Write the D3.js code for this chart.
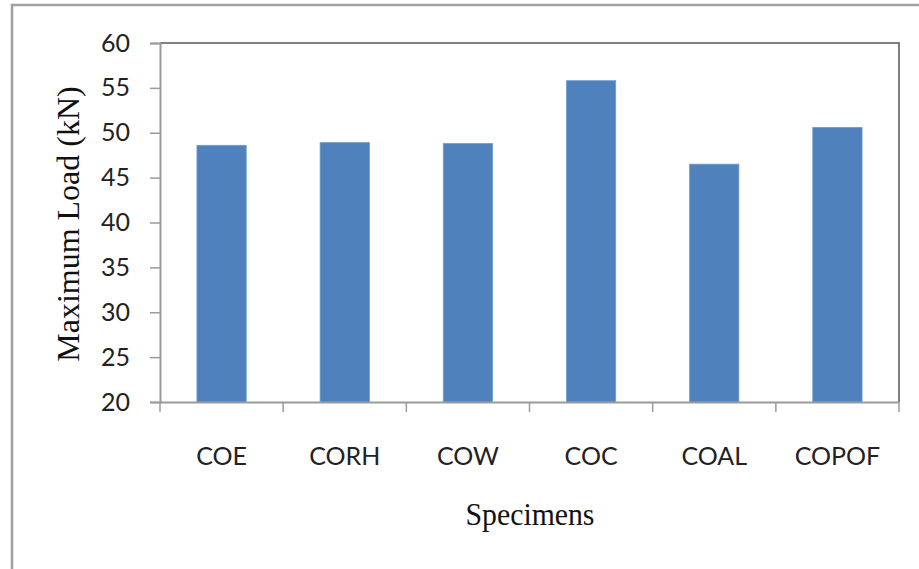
<!DOCTYPE html>
<html>
<head>
<meta charset="utf-8">
<script src="https://cdn.jsdelivr.net/npm/d3@7"></script>
<style>
  body { margin: 0; background: #fff; }
</style>
</head>
<body>
<div id="chart-area"></div>
<script>
// datos del grafico
var specimens = ["COE", "CORH", "COW", "COC", "COAL", "COPOF"];
var maxLoad = [48.6, 48.9, 48.8, 55.8, 46.5, 50.6];
var yTicks = [20, 25, 30, 35, 40, 45, 50, 55, 60];

var W = 919, H = 569;
var margin = { left: 160, right: 20, top: 43, bottom: 167 };
var width = 899 - margin.left;
var height = 402 - margin.top;

var svg = d3.select("#chart-area").append("svg")
    .attr("width", W)
    .attr("height", H);

// marco exterior (cortado a la derecha y abajo)
svg.append("path")
    .attr("d", "M12," + H + " L12,5 L" + W + ",5")
    .attr("fill", "none")
    .attr("stroke", "#a0a0a0")
    .attr("stroke-width", 2.5);

var g = svg.append("g")
    .attr("transform", "translate(" + margin.left + "," + margin.top + ")");

var x = d3.scaleBand()
    .domain(specimens)
    .range([0, width])
    .padding(0);

var y = d3.scaleLinear()
    .domain([20, 60])
    .range([height, 0]);

// borde superior y derecho del area de trazado
g.append("path")
    .attr("d", "M0,0 L" + width + ",0 L" + width + "," + height)
    .attr("fill", "none")
    .attr("stroke", "#555")
    .attr("stroke-width", 1.5);

// barras
var barW = x.bandwidth() * 0.4;
g.selectAll("rect.bar")
    .data(specimens)
    .enter().append("rect")
    .attr("class", "bar")
    .attr("x", (d, i) => x(d) + (x.bandwidth() - barW) / 2)
    .attr("y", (d, i) => y(maxLoad[i]))
    .attr("width", barW)
    .attr("height", (d, i) => height - y(maxLoad[i]))
    .attr("fill", "#4f81bd")
    .attr("stroke", "#6f9bd0")
    .attr("stroke-width", 0.8);

// eje y
var yAxis = g.append("g")
    .call(d3.axisLeft(y).tickValues(yTicks).tickSize(10).tickPadding(20));
yAxis.select(".domain").attr("stroke", "#9a9a9a").attr("stroke-width", 2);
yAxis.selectAll(".tick line").attr("stroke", "#9a9a9a").attr("stroke-width", 1.5);
yAxis.selectAll(".tick text")
    .attr("font-family", "Lato, 'Open Sans', sans-serif")
    .attr("font-size", "25px")
    .attr("fill", "#222");

// eje x con marcas en los limites de las categorias
var xAxis = g.append("g")
    .attr("transform", "translate(0," + height + ")")
    .call(d3.axisBottom(x).tickSize(0).tickPadding(45));
xAxis.select(".domain").attr("stroke", "#9a9a9a").attr("stroke-width", 2);
xAxis.selectAll(".tick text")
    .attr("font-family", "Lato, 'Open Sans', sans-serif")
    .attr("font-size", "25px")
    .attr("fill", "#222");

var bounds = specimens.map(d => x(d)).concat([width]);
xAxis.selectAll("line.sep")
    .data(bounds)
    .enter().append("line")
    .attr("class", "sep")
    .attr("x1", d => d).attr("x2", d => d)
    .attr("y1", 0).attr("y2", 10)
    .attr("stroke", "#9a9a9a")
    .attr("stroke-width", 1.5);

// titulos
svg.append("text")
    .attr("transform", "translate(79,224) rotate(-90)")
    .attr("text-anchor", "middle")
    .attr("font-family", "'Liberation Serif', serif")
    .attr("font-size", "32px")
    .attr("fill", "#111")
    .text("Maximum Load (kN)");

svg.append("text")
    .attr("transform", "translate(530,525) scale(0.93,1)")
    .attr("text-anchor", "middle")
    .attr("font-family", "'Liberation Serif', serif")
    .attr("font-size", "32px")
    .attr("fill", "#111")
    .text("Specimens");
</script>
</body>
</html>
